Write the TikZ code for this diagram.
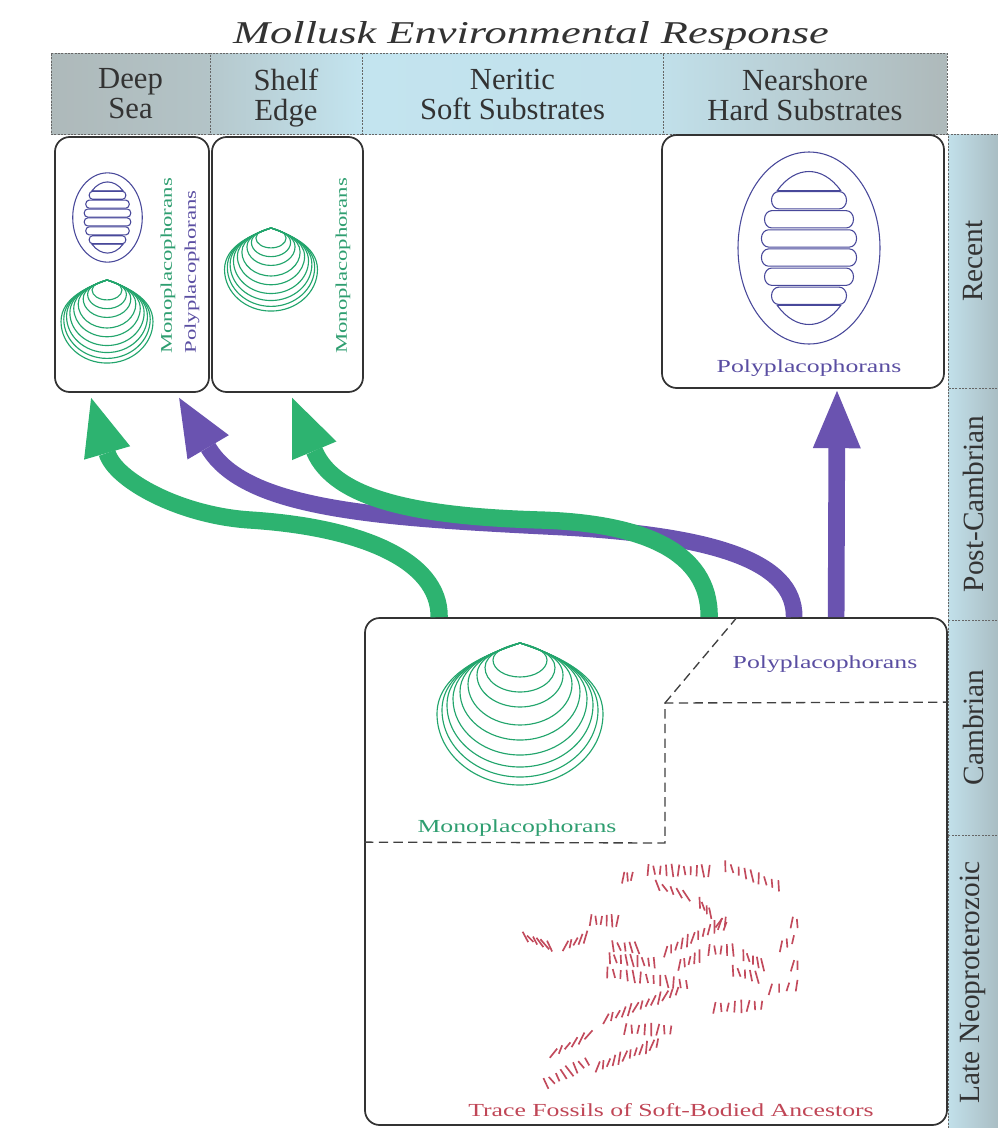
\documentclass[tikz,border=0pt]{standalone}
\usepackage{fontspec}
\setmainfont{Liberation Serif}
\newfontfamily\widefont{Liberation Serif}[FakeStretch=1.4]
\usetikzlibrary{arrows.meta,calc,fit}

\definecolor{mgreen}{HTML}{2DB370}
\definecolor{mpurple}{HTML}{6A53B0}
\definecolor{shellgreen}{HTML}{22A56C}
\definecolor{chitonblue}{HTML}{48489A}
\definecolor{txtgreen}{HTML}{2E9E70}
\definecolor{txtpurple}{HTML}{5A4EA2}
\definecolor{tracered}{HTML}{C24A5C}
\definecolor{txtred}{HTML}{C04656}
\definecolor{hgrey}{HTML}{AEB9BA}
\definecolor{hblue}{HTML}{C3E4EF}
\definecolor{cblue}{HTML}{C2E0EA}
\definecolor{cgrey}{HTML}{A8BCC2}

\newcommand\tracerow[6]{%
  \foreach \k in {1,...,#5}{%
    \pgfmathsetmacro\trang{#6+10*sin(\k*137)}%
    \pgfmathsetmacro\trlen{5.5+1.2*cos(\k*71)}%
    \pgfmathsetmacro\trdx{cos(\trang)*\trlen}%
    \pgfmathsetmacro\trdy{sin(\trang)*\trlen}%
    \pgfmathsetmacro\trt{(\k-0.5)/#5}%
    \coordinate (tr) at ($(#1,#2)!\trt!(#3,#4)$);
    \draw[tracedash] ($(tr)-(\trdx,\trdy)$) -- ($(tr)+(\trdx,\trdy)$);
  }}

\tikzset{
  shellline/.style={draw=shellgreen, line width=0.85pt},
  chitonline/.style={draw=chitonblue, line width=0.8pt},
  tracedash/.style={draw=tracered, line width=1.25pt},
  shell/.pic={
    \foreach \a/\h in {83/142,78/134,73/124,67/112,60/97,52/82,43/64,35/49,27/34}{
      \pgfmathsetmacro\yc{0.5*\h}
      \pgfmathsetmacro\rb{0.5*\h}
      \draw[shellline] (0,0) .. controls (-0.38*\a,0.15*\yc) and (-\a,0.42*\yc) .. (-\a,\yc)
        arc[start angle=180,end angle=0,x radius=\a,y radius=\rb]
        .. controls (\a,0.42*\yc) and (0.38*\a,0.15*\yc) .. (0,0);
    }
  },
  chiton/.pic={
    \draw[chitonline] (0,0) ellipse[x radius=71,y radius=96];
    \draw[chitonline] (-31.74,-57.38) arc[start angle=228.6,end angle=311.4,x radius=48,y radius=76.5] -- cycle;
    \draw[chitonline] (31.74,57.38) arc[start angle=48.6,end angle=131.4,x radius=48,y radius=76.5] -- cycle;
    \foreach \yc/\w in {-47.8/37.5,-28.7/44.5,-9.56/47.6,9.56/47.6,28.7/44.5,47.8/37.5}{
      \draw[chitonline] (-\w+7,\yc-8.6) -- (\w-7,\yc-8.6)
        arc[start angle=270,end angle=450,x radius=7,y radius=8.6]
        -- (-\w+7,\yc+8.6)
        arc[start angle=90,end angle=270,x radius=7,y radius=8.6] -- cycle;
    }
  }
}

\begin{document}
\begin{tikzpicture}[x=0.75pt,y=-0.75pt,
  envbox/.style={draw=black!80, line width=1.3pt, rounded corners=11pt, inner sep=0pt},
  hcell/.style={draw=black!60, line width=0.6pt, dash pattern=on 1.5pt off 1pt, inner sep=0pt},
  ccell/.style={hcell, left color=cblue, right color=cgrey},
  htext/.style={font=\fontsize{23pt}{22.5pt}\selectfont, align=center, text=black!80, inner sep=0pt, anchor=north},
  ctext/.style={rotate=90, font=\fontsize{22pt}{24pt}\selectfont, text=black!80},
  lbl/.style={font=\widefont\fontsize{13.8pt}{16pt}\selectfont},
  rlbl/.style={rotate=90, font=\widefont\fontsize{12.2pt}{14pt}\selectfont},
  garrow/.style={draw=mgreen, line width=13pt, -{Triangle[length=43pt,width=36pt,line width=0pt]}},
  parrow/.style={draw=mpurple, line width=12.5pt, -{Triangle[length=43pt,width=36pt,line width=0pt]}},
  dline/.style={draw=black!75, line width=1pt, dash pattern=on 7pt off 4pt}
]
\useasboundingbox (0,0) rectangle (998,1128);
\fill[white] (0,0) rectangle (998,1128);

% title
\node[font=\widefont\itshape\fontsize{23.8pt}{26pt}\selectfont, anchor=base, text=black!80] (title) at (531,43) {Mollusk Environmental Response};

% header cells
\node[hcell, fit={(51,53) (210,134)}, left color=hgrey, right color=hgrey!75!hblue] (hdeep) {};
\node[hcell, fit={(210,53) (362,134)}, left color=hgrey!65!hblue, right color=hblue] (hshelf) {};
\node[hcell, fit={(362,53) (663,134)}, left color=hblue, right color=hblue!92!hgrey] (hneritic) {};
\node[hcell, fit={(663,53) (947,134)}, left color=hblue!90!hgrey, right color=hgrey] (hnear) {};
\node[htext] at ($(hdeep.north)+(0,16)$) {Deep\\Sea};
\node[htext] at ($(hshelf.north)+(0,16)$) {Shelf\\Edge};
\node[htext] at ($(hneritic.north)+(0,16)$) {Neritic\\Soft Substrates};
\node[htext] at ($(hnear.north)+(0,16)$) {Nearshore\\Hard Substrates};

% time column
\node[ccell, fit={(948,134) (1000,388)}] (crecent) {};
\node[ccell, fit={(948,388) (1000,620)}] (cpost) {};
\node[ccell, fit={(948,620) (1000,835)}] (ccamb) {};
\node[ccell, fit={(948,835) (1000,1130)}] (cneo) {};
\node[ctext] at ($(crecent.center)+(-1,0)$) {Recent};
\node[ctext] at ($(cpost.center)+(-1,0)$) {Post-Cambrian};
\node[ctext] at ($(ccamb.center)+(-1,0)$) {Cambrian};
\node[ctext] at ($(cneo.center)+(-1,0)$) {Late Neoproterozoic};

% environment boxes
\node[envbox, fit={(55,137) (209,392)}] (deep) {};
\node[envbox, fit={(212,137) (363,392)}] (shelf) {};
\node[envbox, fit={(662,135) (944,388)}] (near) {};
\node[envbox, fit={(365,618) (947,1125)}] (cbox) {};

% dividers in bottom box
\draw[dline] ($(cbox.north west)+(0,225)$) -- (665,843) -- (665,703) -- ($(cbox.north east)+(0,85)$);
\draw[dline] (665,703) -- ($(cbox.north west)+(373,0)$);

% shells and chitons
\pic at (520,643) {shell};
\pic[xscale=0.554,yscale=0.585] at (107,280) {shell};
\pic[xscale=0.56,yscale=0.585] at (271,228) {shell};
\pic at (809,248) {chiton};
\pic[xscale=0.49,yscale=0.465] at (107.5,217.5) {chiton};

% labels
\node[lbl, text=txtpurple] (nearlbl) at (809,368) {Polyplacophorans};
\node[lbl, text=txtpurple] (cpoly) at (825,664) {Polyplacophorans};
\node[lbl, text=txtgreen] (cmono) at (517,828) {Monoplacophorans};
\node[lbl, text=txtred] (tracelbl) at (671,1110) {Trace Fossils of Soft-Bodied Ancestors};
\node[rlbl, text=txtgreen] (dmono) at (168,266) {Monoplacophorans};
\node[rlbl, text=txtpurple] (dpoly) at (192,272) {Polyplacophorans};
\node[rlbl, text=txtgreen] (smono) at (343,266) {Monoplacophorans};

% trace fossils
\tracerow{621}{878}{634}{876}{3}{95}
\tracerow{645}{870}{712}{871}{11}{88}
\tracerow{722}{865}{782}{887}{9}{82}
\tracerow{654}{884}{690}{897}{5}{62}
\tracerow{698}{901}{712}{915}{4}{80}
\tracerow{716}{921}{728}{928}{2}{120}
\tracerow{588}{920}{620}{921}{6}{92}
\tracerow{523}{936}{552}{947}{6}{55}
\tracerow{563}{947}{588}{936}{5}{112}
\tracerow{610}{946}{640}{948}{5}{75}
\tracerow{663}{953}{728}{920}{12}{100}
\tracerow{607}{958}{657}{963}{9}{80}
\tracerow{677}{966}{702}{955}{5}{95}
\tracerow{706}{950}{736}{950}{5}{90}
\tracerow{741}{954}{765}{966}{5}{82}
\tracerow{789}{922}{800}{924}{2}{95}
\tracerow{778}{948}{796}{938}{3}{95}
\tracerow{790}{966}{800}{965}{2}{100}
\tracerow{766}{990}{801}{985}{4}{100}
\tracerow{604}{972}{690}{985}{13}{85}
\tracerow{730}{970}{760}{978}{5}{80}
\tracerow{711}{1008}{765}{1005}{8}{95}
\tracerow{603}{1020}{680}{990}{13}{112}
\tracerow{622}{1029}{674}{1030}{8}{95}
\tracerow{550}{1055}{592}{1033}{6}{122}
\tracerow{543}{1085}{590}{1060}{8}{58}
\tracerow{595}{1068}{660}{1042}{12}{105}

% arrows
\draw[parrow] ($(cbox.north west)+(430,0)$) .. controls (795,560) and (710,535) .. (560,527)
   .. controls (380,518) and (245,510) .. ($(deep.south west)+(125,5)$);
\draw[parrow] ($(cbox.north west)+(472,0)$) -- ($(near.south)+(34,2)$);
\draw[garrow] ($(cbox.north west)+(75,0)$) .. controls (440,560) and (360,527) .. (250,520)
   .. controls (180,515.5) and (115,480) .. ($(deep.south west)+(37,5)$);
\draw[garrow] ($(cbox.north west)+(345,0)$) .. controls (710,550) and (640,523) .. (540,520)
   .. controls (420,516.5) and (335,500) .. ($(shelf.south west)+(81,5)$);
\end{tikzpicture}
\end{document}
